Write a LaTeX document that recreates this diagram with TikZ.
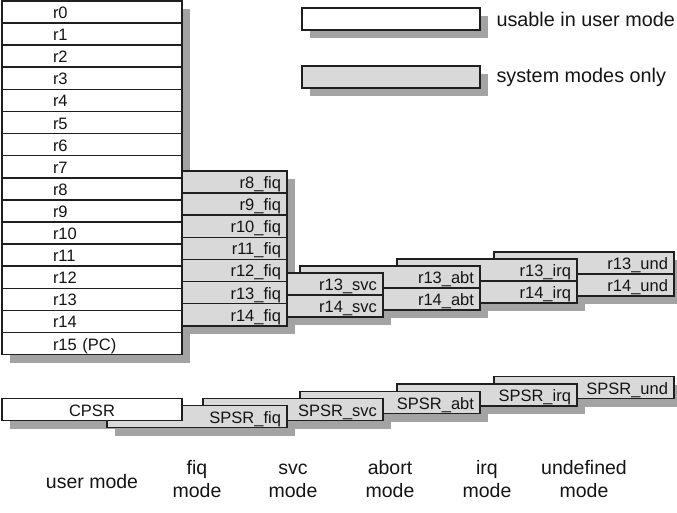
\documentclass[tikz,border=0pt]{standalone}
\usepackage{fontspec}
\setmainfont{Liberation Sans}
\usetikzlibrary{positioning,backgrounds}

\begin{document}
\begin{tikzpicture}[x=1pt,y=-1pt,node distance=0pt]
  \tikzstyle{reg}=[draw=black!88,line width=1.6pt,minimum height=22.1pt,inner ysep=0pt,
                   outer sep=0pt,text=black!92,text height=14pt,text depth=1pt,
                   font=\fontsize{16.5}{18}\selectfont]
  \tikzstyle{userreg}=[reg,fill=white,inner xsep=51pt,text width=78pt,align=left]
  \tikzstyle{bankreg}=[reg,fill=black!15,inner xsep=6pt,text width=168pt,align=right]
  \tikzstyle{shade}=[fill=black!36]
  \tikzstyle{caption}=[text=black!92,font=\fontsize{19.5}{23}\selectfont,align=center]
  \tikzstyle{legend}=[text=black!92,font=\fontsize{19.8}{22}\selectfont]

  \useasboundingbox (0,0) rectangle (677,513);

  % banked registers, back to front
  \node[bankreg,anchor=north west] (und13) at (494,252) {r13\_und};
  \node[bankreg,below=of und13]    (und14)               {r14\_und};
  \node[bankreg,anchor=north west] (irq13) at (397,259) {r13\_irq};
  \node[bankreg,below=of irq13]    (irq14)               {r14\_irq};
  \node[bankreg,anchor=north west] (abt13) at (300,266) {r13\_abt};
  \node[bankreg,below=of abt13]    (abt14)               {r14\_abt};
  \node[bankreg,anchor=north west] (svc13) at (203,273) {r13\_svc};
  \node[bankreg,below=of svc13]    (svc14)               {r14\_svc};

  \node[bankreg,anchor=north west] (fiq8) at (107,171) {r8\_fiq};
  \foreach \i [remember=\i as \j (initially 8)] in {9,...,14}
    \node[bankreg,below=of fiq\j] (fiq\i) {r\i\_fiq};

  % user registers
  \node[userreg,anchor=north west] (u0) at (2,1) {r0};
  \foreach \i [remember=\i as \j (initially 0)] in {1,...,14}
    \node[userreg,below=of u\j] (u\i) {r\i};
  \node[userreg,below=of u14] (u15) {r15 (PC)};

  % status registers
  \node[bankreg,anchor=north west] (spsrund) at (494,376.5) {SPSR\_und};
  \node[bankreg,anchor=north west] (spsrirq) at (397,384)   {SPSR\_irq};
  \node[bankreg,anchor=north west] (spsrabt) at (300,391.5) {SPSR\_abt};
  \node[bankreg,anchor=north west] (spsrsvc) at (203,398.5) {SPSR\_svc};
  \node[bankreg,anchor=north west] (spsrfiq) at (107,405.5) {SPSR\_fiq};
  \node[reg,fill=white,inner xsep=6pt,text width=168pt,align=center,anchor=north west]
       (cpsr) at (2,398.5) {CPSR};

  % key
  \node[reg,fill=white,minimum width=178pt,anchor=north west]    (keyuser) at (302,8)  {};
  \node[reg,fill=black!15,minimum width=178pt,anchor=north west] (keysys)  at (302,66) {};
  \node[legend,right=13pt of keyuser] (keyusertext) {usable in user mode};
  \node[legend,right=13pt of keysys]  (keysystext)  {system modes only};

  % mode names
  \coordinate (capone) at (0,482);
  \coordinate (captwo) at (0,478);
  \node[caption] (capuser) at (cpsr.center |- capone)    {user mode};
  \node[caption] (capfiq)  at (spsrfiq.center |- captwo) {fiq\strut\\mode};
  \node[caption] (capsvc)  at (spsrsvc.center |- captwo) {svc\strut\\mode};
  \node[caption] (capabt)  at (spsrabt.center |- captwo) {abort\strut\\mode};
  \node[caption] (capirq)  at (spsrirq.center |- captwo) {irq\strut\\mode};
  \node[caption] (capund)  at (spsrund.center |- captwo) {undefined\strut\\mode};

  % drop shadows
  \begin{scope}[on background layer]
    \foreach \a/\b in {u0/u15,fiq8/fiq14,svc13/svc14,abt13/abt14,irq13/irq14,und13/und14,
                       cpsr/cpsr,spsrfiq/spsrfiq,spsrsvc/spsrsvc,spsrabt/spsrabt,
                       spsrirq/spsrirq,spsrund/spsrund,keyuser/keyuser,keysys/keysys}
      \fill[shade] ([shift={(8,8)}]\a.north west) rectangle ([shift={(8,8)}]\b.south east);
  \end{scope}
\end{tikzpicture}
\end{document}
